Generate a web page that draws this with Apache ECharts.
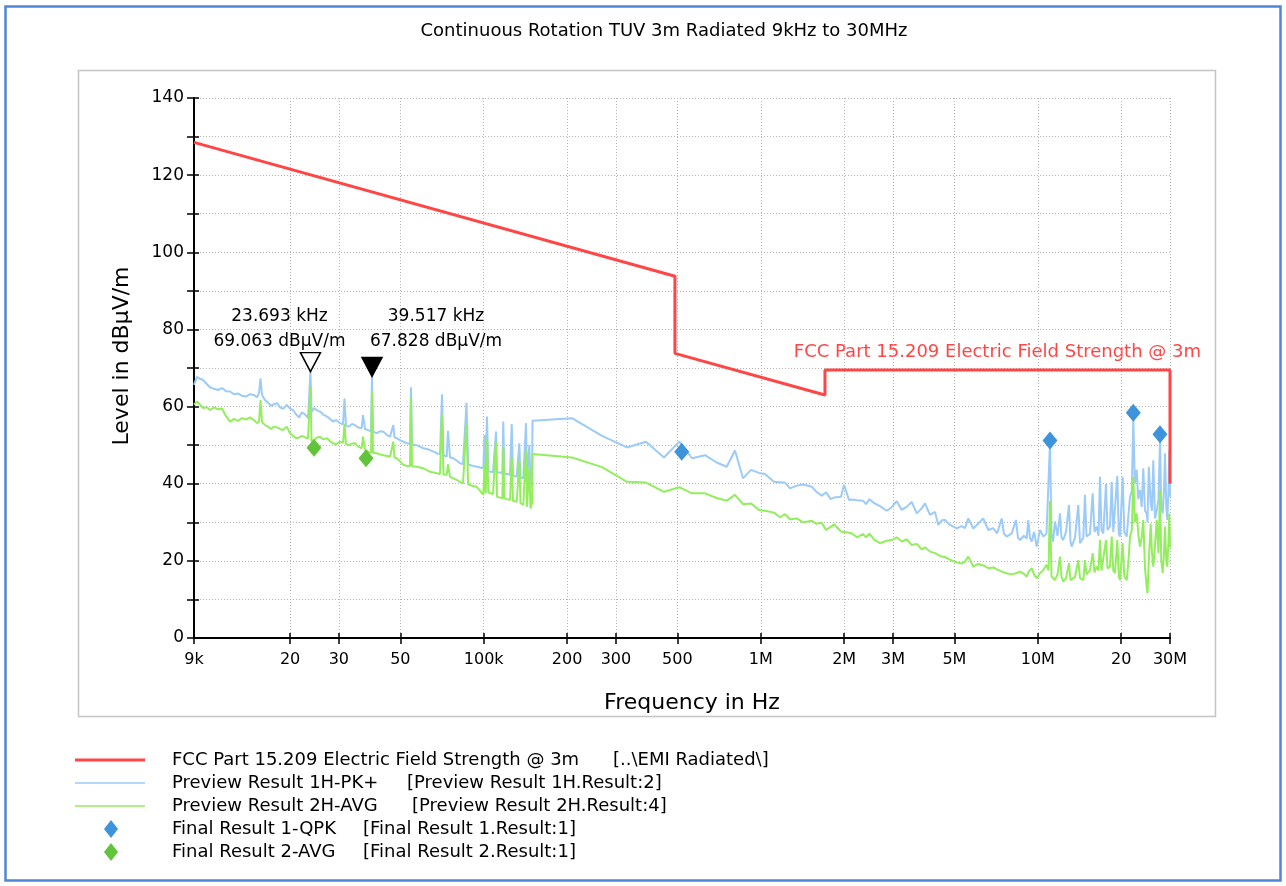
<!DOCTYPE html>
<html>
<head>
<meta charset="utf-8">
<title>Continuous Rotation TUV 3m Radiated 9kHz to 30MHz</title>
<script src="https://cdn.jsdelivr.net/npm/echarts@6.0.0/dist/echarts.min.js"></script>
<style>
  html, body { margin: 0; padding: 0; background: #fff; }
  #chart { width: 1286px; height: 886px; }
</style>
</head>
<body>
<div id="chart"></div>
<script>
let $ = s => document.querySelector(s)

const chartTitle = "Continuous Rotation TUV 3m Radiated 9kHz to 30MHz"

// x axis ticks (Hz) and what is printed under them
const tickFreqs = [9e3, 2e4, 3e4, 5e4, 1e5, 2e5, 3e5, 5e5, 1e6, 2e6, 3e6, 5e6, 1e7, 2e7, 3e7]
const tickLabels = ["9k", "20", "30", "50", "100k", "200", "300", "500", "1M", "2M", "3M", "5M", "10M", "20", "30M"]

// FCC Part 15.209 limit, kHz / dBuV/m
const limitFreqKHz = [9, 490, 490, 1705, 1705, 30000, 30000]
const limitLevels = [128.5, 93.8, 73.8, 63.0, 69.5, 69.5, 40.0]

// preview scan, kHz
const freqKHz = [
  9.000, 9.227, 9.460, 9.699, 10.027, 10.280, 10.627, 10.987, 11.358, 11.742,
  12.139, 12.549, 12.974, 13.412, 13.866, 14.334, 14.819, 15.193, 15.448, 15.641,
  15.838, 16.238, 16.648, 17.068, 17.499, 17.941, 18.393, 18.858, 19.447, 19.987,
  20.492, 21.009, 21.540, 22.084, 22.641, 23.213, 23.504, 23.693, 23.898, 24.400,
  25.016, 25.647, 26.295, 27.184, 27.870, 28.573, 29.295, 30.285, 31.050, 31.439,
  31.834, 32.637, 33.461, 34.306, 35.172, 36.270, 36.664, 37.279, 38.220, 39.185,
  39.517, 39.842, 41.086, 42.229, 43.403, 44.758, 45.888, 47.164, 47.637, 48.516,
  49.865, 51.251, 52.852, 54.186, 54.638, 55.095, 57.289, 58.882, 60.519, 62.409,
  63.985, 65.874, 67.649, 69.530, 70.696, 71.583, 73.512, 74.311, 75.556, 77.657,
  79.882, 82.104, 84.177, 86.662, 87.839, 89.221, 91.702, 94.331, 96.953, 99.650,
  100.65, 101.66, 102.76, 103.88, 105.36, 108.02, 109.83, 110.74, 111.67, 114.49,
  116.70, 117.67, 118.65, 121.35, 124.41, 126.18, 127.55, 131.53, 133.29, 134.41,
  135.75, 138.95, 140.93, 142.10, 143.29, 145.09, 146.05, 147.52, 149.4,
  150.0, 208.26, 267.26, 328.97, 385.25, 447.41, 508.09, 564.65, 629.07, 693.31,
  753.41, 807.21, 862.71, 922.0, 985.4, 1035.8, 1116.2, 1173.4, 1223.1, 1275.0,
  1351.4, 1420.5, 1530.8, 1582.6, 1659.3, 1719.7, 1788.2, 1837.9, 1948.0, 1997.2,
  2082.0, 2134.5, 2225.1, 2338.8, 2398.0, 2468.7,
  2562.5, 2693.6, 2847.8, 2968.6, 3094.6, 3225.8, 3362.7, 3505.3, 3654.1, 3809.2,
  3915.1, 4081.2, 4254.3, 4372.6, 4497.9, 4623.0, 4819.1, 5095.1, 5311.2, 5458.9,
  5610.7, 5848.8, 6096.9, 6355.6, 6625.2, 6906.3, 7121.9, 7405.7, 7548.6, 7720.0,
  8047.6, 8340.7, 8480.5, 8622.7, 8914.2, 9116.5, 9238.5, 9369.9, 9503.3, 9686.7,
  9906.5, 10182, 10465, 10747, 10927, 11064, 11203,
  11344, 11534, 11776, 12023, 12174, 12358, 12638, 12957, 13120, 13251,
  13620, 13998, 14198, 14592, 14800, 14986, 15428, 15778, 16016, 16312,
  16557, 16765, 16976, 17231, 17623, 17844, 18218, 18478, 18725, 18991,
  19358, 19601, 19797, 20247, 20518, 20931, 21247, 21513, 21837, 22111,
  22389, 22745, 23050, 23378, 23710, 24028, 24370, 24717, 24881, 25152,
  25552, 25830, 26110, 26482, 26859, 27263, 27605, 27905, 28232, 28538,
  28777, 29089, 29332, 29626, 29824, 30000
]

// Preview Result 1H-PK+, dBuV/m
const pkLevels = [
  65.6, 67.7, 67.2, 66.9, 65.8, 65.0, 64.6, 64.3, 64.8, 64.0,
  63.9, 63.2, 63.4, 62.8, 62.6, 63.2, 63.0, 62.4, 63.5, 67.3,
  63.0, 61.7, 61.0, 60.2, 60.6, 60.9, 59.8, 59.4, 60.4, 59.5,
  59.1, 58.0, 57.2, 58.5, 58.0, 57.0, 57.5, 69.063, 58.5, 59.6,
  59.0, 58.7, 58.0, 57.4, 56.8, 56.1, 56.5, 55.7, 55.4, 62.1,
  55.0, 54.8, 55.5, 55.2, 54.6, 54.4, 57.8, 54.2, 53.9, 53.6,
  67.828, 53.5, 53.1, 53.6, 53.5, 52.6, 52.2, 55.2, 52.0, 51.8,
  51.3, 50.9, 50.5, 50.3, 65.0, 50.2, 50.0, 49.6, 49.2, 49.0,
  48.7, 48.3, 47.9, 47.6, 63.2, 47.4, 47.0, 53.7, 46.8, 46.6,
  46.0, 45.3, 45.1, 61.0, 45.0, 44.9, 44.6, 44.4, 44.2, 44.0,
  52.6, 43.8, 57.4, 43.2, 42.7, 43.0, 43.1, 53.5, 43.0, 42.9,
  42.7, 56.1, 42.6, 42.5, 42.3, 55.5, 42.1, 41.8, 41.6, 50.5,
  41.6, 41.4, 41.0, 55.7, 40.9, 40.8, 50.0, 40.5, 39.2,
  56.3, 57.0, 52.4, 49.4, 50.9, 46.8, 50.9, 46.6, 47.4, 45.5,
  44.4, 48.6, 41.4, 43.6, 42.8, 42.5, 40.5, 40.4, 40.3, 38.8,
  39.5, 39.8, 39.2, 38.0, 36.9, 37.8, 36.0, 36.4, 36.6, 39.7,
  35.8, 35.9, 35.7, 35.6, 34.7, 36.0,
  35.0, 34.2, 33.0, 33.9, 35.5, 33.2, 34.0, 35.3, 32.3, 33.6,
  34.9, 31.9, 32.7, 29.3, 30.5, 30.6, 29.3, 28.4, 29.0, 28.5,
  31.0, 28.4, 29.7, 31.0, 28.0, 28.5, 27.1, 31.0, 27.0, 26.3,
  27.1, 30.6, 26.0, 25.4, 26.5, 25.8, 30.6, 26.0, 25.0, 27.5,
  23.7, 28.0, 26.3, 27.0, 26.5, 50.5, 27.0,
  25.0, 30.2, 26.5, 32.3, 26.0, 25.4, 27.5, 34.5, 25.0, 23.7,
  26.0, 34.5, 24.6, 26.0, 37.1, 26.3, 27.0, 37.5, 27.5, 28.9,
  26.5, 41.8, 28.0, 27.1, 39.9, 28.0, 28.9, 40.5, 27.5, 28.0,
  42.0, 27.0, 26.3, 41.8, 27.5, 26.3, 32.0, 36.6, 38.0, 57.0,
  40.0, 43.6, 36.0, 38.4, 34.0, 44.0, 33.0, 32.3, 30.0, 44.4,
  35.0, 33.0, 46.1, 31.0, 33.0, 36.0, 51.5, 34.0, 32.3, 38.0,
  47.9, 34.0, 30.6, 38.0, 48.7, 36.6
]

// Preview Result 2H-AVG, dBuV/m
const avgLevels = [
  60.5, 61.3, 60.5, 59.6, 59.8, 59.1, 59.8, 59.3, 59.5, 57.5,
  56.1, 56.8, 56.3, 57.0, 56.6, 57.2, 56.5, 55.7, 56.0, 61.7,
  56.0, 55.2, 54.8, 54.2, 54.8, 54.6, 54.2, 53.9, 54.8, 53.1,
  52.4, 51.8, 52.0, 52.4, 52.0, 51.8, 51.5, 65.2, 51.0, 51.3,
  52.0, 52.2, 51.5, 51.8, 51.0, 50.5, 50.2, 50.9, 50.6, 55.5,
  50.2, 50.0, 50.4, 50.5, 49.6, 49.2, 52.2, 48.8, 48.3, 48.0,
  63.9, 48.0, 47.9, 47.6, 47.4, 47.2, 47.0, 50.9, 46.8, 46.6,
  45.8, 44.9, 44.6, 44.6, 62.5, 44.5, 44.4, 44.2, 44.0, 43.5,
  43.1, 42.9, 42.7, 42.5, 58.0, 42.4, 42.3, 45.0, 41.8, 41.4,
  41.0, 40.5, 40.1, 55.7, 39.8, 39.7, 39.4, 39.2, 38.2, 37.1,
  45.0, 37.5, 51.8, 37.8, 38.0, 37.3, 36.8, 50.9, 36.6, 36.4,
  36.2, 49.6, 36.2, 36.0, 35.8, 47.0, 35.6, 35.3, 35.0, 46.0,
  35.0, 34.5, 34.0, 48.7, 34.0, 33.8, 44.0, 33.6, 35.0,
  47.7, 46.8, 44.3, 40.5, 40.3, 37.9, 39.1, 37.5, 37.5, 36.3,
  35.6, 37.1, 34.7, 34.9, 33.2, 33.0, 32.5, 31.3, 32.1, 30.8,
  31.0, 30.0, 30.4, 29.6, 29.9, 28.0, 28.8, 29.5, 27.6, 27.5,
  27.3, 27.1, 26.1, 27.0, 26.1, 27.1,
  25.5, 24.6, 25.2, 25.4, 26.1, 25.0, 25.6, 24.1, 24.4, 23.0,
  23.5, 22.4, 22.0, 21.5, 21.1, 21.0, 20.3, 19.6, 19.3, 19.8,
  21.1, 18.5, 19.2, 18.8, 18.1, 18.3, 17.8, 17.2, 17.0, 16.8,
  16.5, 16.8, 16.5, 17.2, 16.6, 15.9, 17.0, 17.5, 18.1, 16.5,
  15.5, 16.8, 17.6, 19.0, 17.5, 35.6, 16.0,
  15.5, 15.0, 16.5, 21.1, 16.0, 14.6, 15.5, 19.4, 15.0, 14.6,
  15.8, 20.2, 15.5, 15.0, 20.2, 16.5, 17.6, 22.0, 17.0, 18.5,
  17.5, 25.4, 17.5, 17.2, 25.4, 18.0, 18.5, 26.3, 17.5, 16.8,
  25.4, 16.0, 15.0, 24.6, 16.0, 15.0, 20.0, 26.3, 28.0, 41.8,
  30.0, 32.3, 27.0, 23.7, 26.0, 30.6, 18.0, 13.3, 11.6, 20.0,
  29.7, 22.0, 18.5, 24.0, 30.6, 22.0, 38.4, 20.0, 16.8, 22.0,
  28.9, 20.0, 18.5, 25.0, 32.3, 23.5
]

// final measurements
const qpkFreqKHz = [518.3, 11064, 22111, 27605]
const qpkLevels = [48.3, 51.2, 58.4, 52.8]
const finalAvgFreqKHz = [24.4, 37.6]
const finalAvgLevels = [49.3, 46.6]

// markers
const markerFreqKHz = [23.693, 39.517]
const markerLevels = [69.063, 67.828]

// legend rows
const legendNames = [
  "FCC Part 15.209 Electric Field Strength @ 3m",
  "Preview Result 1H-PK+",
  "Preview Result 2H-AVG",
  "Final Result 1-QPK",
  "Final Result 2-AVG"
]
const legendSources = [
  "[..\\EMI Radiated\\]",
  "[Preview Result 1H.Result:2]",
  "[Preview Result 2H.Result:4]",
  "[Final Result 1.Result:1]",
  "[Final Result 2.Result:1]"
]

const FONT = "DejaVu Sans"
const RED = "#ff4646", BLUE = "#9ccbf8", GREEN = "#93ee5e", QPK = "#3d93dc", AVG = "#62c43a"

const lg = kHz => Math.log10(kHz * 1000)
const pairs = (fs, ls) => fs.map((f, i) => [lg(f), ls[i]])
const xTicks = tickFreqs.map(f => Math.log10(f))
const grey = { color: "#b4b4b4", width: 1, type: [1, 2] }

const Chart = {
  init() {
    this.chart = echarts.init($("#chart"), null, { renderer: "canvas" })
    this.chart.setOption(this.option())
  },

  xLabel(v) {
    let i = xTicks.findIndex(t => Math.abs(t - v) < 1e-9)
    return i < 0 ? "" : tickLabels[i]
  },

  markerSeries() {
    let fills = ["#ffffff", "#000000"]
    let offsets = [[-31, -33], [64, -38]]
    return markerFreqKHz.map((f, i) => ({
      type: "scatter",
      name: "marker " + (i + 1),
      data: [[lg(f), markerLevels[i]]],
      symbol: "path://M0 0L20 0L10 19Z",
      symbolSize: [20, 19],
      symbolOffset: [0, "-50%"],
      itemStyle: { color: fills[i], borderColor: "#000", borderWidth: 1.5, opacity: 1 },
      label: {
        show: true, position: "inside", offset: offsets[i],
        color: "#000", fontFamily: FONT, fontSize: 17, lineHeight: 25,
        textBorderWidth: 0, align: "center",
        formatter: () => `${f.toFixed(3)} kHz\n${markerLevels[i].toFixed(3)} dBµV/m`
      },
      z: 6
    }))
  },

  legendGraphics() {
    let rowY = [760, 783, 806, 829, 852]
    let srcX = [613, 407, 412, 363, 363]
    let icons = [
      { type: "line", color: RED, width: 3 },
      { type: "line", color: BLUE, width: 1.6 },
      { type: "line", color: GREEN, width: 1.6 },
      { type: "diamond", color: QPK },
      { type: "diamond", color: AVG }
    ]
    let out = []
    legendNames.forEach((name, i) => {
      let y = rowY[i], ic = icons[i]
      if (ic.type === "line") {
        out.push({ type: "line", shape: { x1: 75, y1: y, x2: 145, y2: y }, style: { stroke: ic.color, lineWidth: ic.width } })
      } else {
        out.push({ type: "polygon", shape: { points: [[111, y - 9], [118, y], [111, y + 9], [104, y]] }, style: { fill: ic.color } })
      }
      out.push({ type: "text", x: 172, y: y, style: { text: name, fontFamily: FONT, fontSize: 18, fill: "#000", verticalAlign: "middle" } })
      out.push({ type: "text", x: srcX[i], y: y, style: { text: legendSources[i], fontFamily: FONT, fontSize: 18, fill: "#000", verticalAlign: "middle" } })
    })
    return out
  },

  option() {
    let xMin = lg(9), xMax = lg(30000)
    return {
      animation: false,
      backgroundColor: "#fff",
      textStyle: { fontFamily: FONT },
      title: {
        text: chartTitle, left: 664, top: 22, textAlign: "center", padding: 0,
        textStyle: { fontFamily: FONT, fontSize: 18, fontWeight: "normal", color: "#000" }
      },
      grid: { left: 194, right: 116, top: 98, bottom: 248 },
      xAxis: [{
        type: "value", min: xMin, max: xMax,
        axisLine: { show: true, lineStyle: { color: "#000", width: 2 } },
        axisTick: { show: true, customValues: xTicks, length: 6, lineStyle: { color: "#000", width: 1.5 } },
        axisLabel: { customValues: xTicks, formatter: v => this.xLabel(v), margin: 14, fontSize: 16, color: "#000", fontFamily: FONT },
        splitLine: { show: true, lineStyle: grey }
      }, {
        type: "value", min: xMin, max: xMax, position: "bottom",
        axisLine: { show: false },
        axisTick: { show: true, inside: true, customValues: xTicks, length: 5, lineStyle: { color: "#000", width: 1.5 } },
        axisLabel: { show: false },
        splitLine: { show: false }
      }],
      yAxis: [{
        type: "value", min: 0, max: 140, interval: 10,
        axisLine: { show: true, lineStyle: { color: "#000", width: 2 } },
        axisTick: { show: true, length: 7, lineStyle: { color: "#000", width: 1.5 } },
        axisLabel: { formatter: v => (v % 20 === 0 ? String(v) : ""), margin: 10, fontSize: 17, color: "#000", fontFamily: FONT },
        splitLine: { show: true, lineStyle: grey }
      }, {
        type: "value", min: 0, max: 140, interval: 10, position: "left",
        axisLine: { show: false },
        axisTick: { show: true, inside: true, length: 5, lineStyle: { color: "#000", width: 1.5 } },
        axisLabel: { show: false },
        splitLine: { show: false }
      }],
      series: [{
        type: "line", name: legendNames[1], data: pairs(freqKHz, pkLevels),
        symbol: "none", lineStyle: { color: BLUE, width: 2 }, z: 2
      }, {
        type: "line", name: legendNames[2], data: pairs(freqKHz, avgLevels),
        symbol: "none", lineStyle: { color: GREEN, width: 2 }, z: 3
      }, {
        type: "line", name: legendNames[0], data: pairs(limitFreqKHz, limitLevels),
        symbol: "none", clip: false, lineStyle: { color: RED, width: 3 }, z: 4
      }, {
        type: "scatter", name: legendNames[3], data: pairs(qpkFreqKHz, qpkLevels),
        symbol: "diamond", symbolSize: [15, 18], itemStyle: { color: QPK, opacity: 1 }, z: 5
      }, {
        type: "scatter", name: legendNames[4], data: pairs(finalAvgFreqKHz, finalAvgLevels),
        symbol: "diamond", symbolSize: [15, 18], itemStyle: { color: AVG, opacity: 1 }, z: 5
      }, ...this.markerSeries()],
      graphic: [
        { type: "rect", shape: { x: 5.5, y: 6.5, width: 1275, height: 874 }, style: { fill: "transparent", stroke: "#4f86d8", lineWidth: 2.5 } },
        { type: "rect", shape: { x: 78.5, y: 70.5, width: 1137, height: 646 }, style: { fill: "transparent", stroke: "#c4c4c4", lineWidth: 1.5 } },
        { type: "text", x: 122, y: 356, rotation: Math.PI / 2, style: { text: "Level in dBµV/m", fontFamily: FONT, fontSize: 22, fill: "#000", align: "center", verticalAlign: "middle" } },
        { type: "text", x: 692, y: 703, style: { text: "Frequency in Hz", fontFamily: FONT, fontSize: 22, fill: "#000", align: "center", verticalAlign: "middle" } },
        { type: "text", x: 1201, y: 352, style: { text: legendNames[0], fontFamily: FONT, fontSize: 18, fill: RED, align: "right", verticalAlign: "middle" } },
        ...this.legendGraphics()
      ]
    }
  }
}

Chart.init()
</script>
</body>
</html>
